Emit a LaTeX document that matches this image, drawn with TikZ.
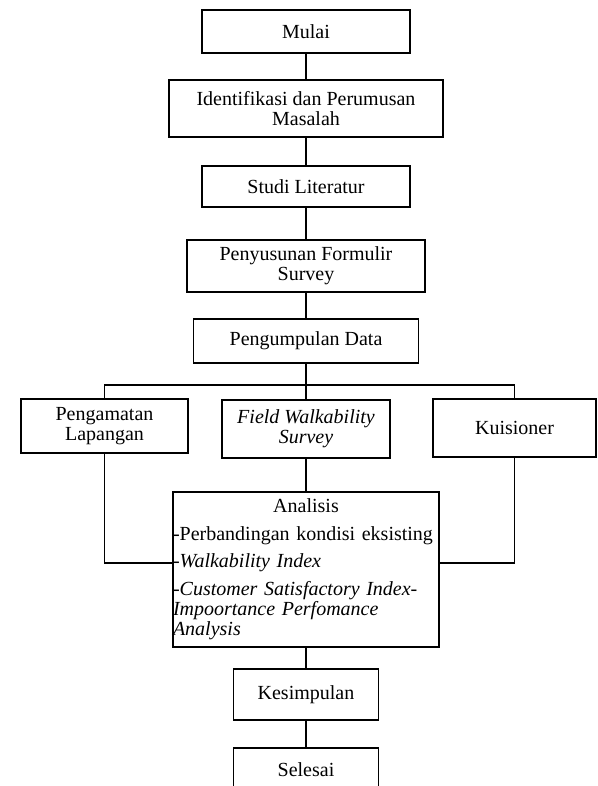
\documentclass[tikz,border=0pt]{standalone}
\usepackage{fontspec}
\setmainfont{Liberation Serif}
\usetikzlibrary{calc}

\begin{document}
\begin{tikzpicture}[
                    x=1pt, y=-1pt,
                    block/.style={rectangle, draw, line width=1.2pt, align=center, inner sep=0pt, font=\fontsize{20}{20}\selectfont},
                    line/.style={draw, line width=1.2pt}
                ]
                    \useasboundingbox (0,0) rectangle (597,786);
                    \clip (0,0) rectangle (597,786);

                    \node [block, minimum width=208, minimum height=43] (mulai) at (306,31.5) {Mulai};
                    \node [block, minimum width=274, minimum height=57] (ident) at (306,108.5) {Identifikasi dan Perumusan\\Masalah};
                    \node [block, minimum width=208, minimum height=41] (studi) at (306,186.5) {Studi Literatur};
                    \node [block, minimum width=238, minimum height=52] (formulir) at (306,266) {Penyusunan Formulir\\Survey};
                    \node [block, minimum width=225, minimum height=44] (kumpul) at (306,341) {Pengumpulan Data};

                    % Edges down the main chain
                    \path [line] (mulai) -- (ident);
                    \path [line] (ident) -- (studi);
                    \path [line] (studi) -- (formulir);
                    \path [line] (formulir) -- (kumpul);

                    \coordinate (cabang) at (306,385);
                    \node [block, minimum width=167, minimum height=54] (amat) at (104.5,426) {Pengamatan\\Lapangan};
                    \node [block, minimum width=168, minimum height=58] (field) at (306,429) {\itshape Field Walkability\\\itshape Survey};
                    \node [block, minimum width=163, minimum height=58] (kuis) at (514.5,428) {Kuisioner};

                    % Edges from Pengumpulan Data
                    \path [line] (kumpul) -- (cabang);
                    \path [line] (amat) |- (cabang) -| (kuis);
                    \path [line] (cabang) -- (field);

                    \node [block, align=left, text width=266, minimum height=155] (analisis) at (306,569.5) {\hfill Analisis\hfill\null\\[8pt]
                        -Perbandingan kondisi eksisting\\[7pt]
                        -\textit{Walkability Index}\\[8pt]
                        \textit{-Customer Satisfactory Index-}\\
                        \textit{Impoortance Perfomance}\\
                        \textit{Analysis}};

                    % Edges to Analisis
                    \path [line] (field) -- (analisis);
                    \path [line] (amat) |- ([yshift=6.5pt]analisis.west);
                    \path [line] (kuis) |- ([yshift=6.5pt]analisis.east);

                    \node [block, minimum width=145, minimum height=51] (simpul) at (306,694.5) {Kesimpulan};
                    \node [block, minimum width=145, minimum height=44] (selesai) at (306,770) {Selesai};

                    % Edges to the end
                    \path [line] (analisis) -- (simpul);
                    \path [line] (simpul) -- (selesai);
                \end{tikzpicture}
\end{document}
